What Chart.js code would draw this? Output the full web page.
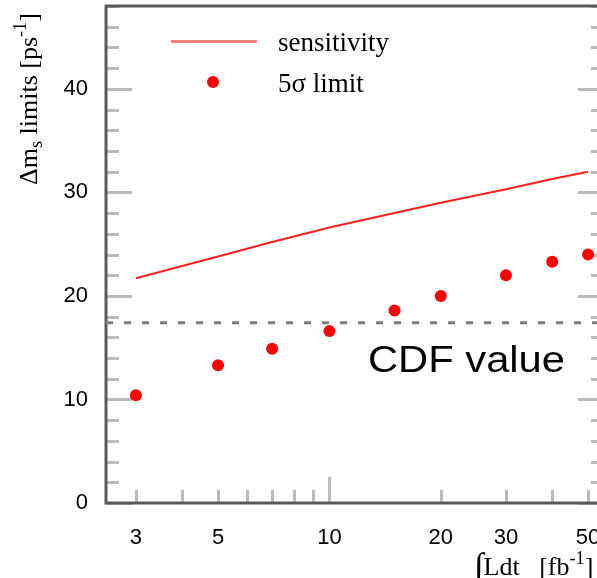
<!DOCTYPE html>
<html>
<head>
<meta charset="utf-8">
<script src="https://cdn.jsdelivr.net/npm/chart.js@4"></script>
<style>
  html, body { margin: 0; padding: 0; background: #fff; overflow: hidden; }
  #limits { display: block; }
</style>
</head>
<body>
<canvas id="limits" width="604" height="578"></canvas>
<script>
// integrated luminosity [fb^-1]
const lumi = [3, 5, 7, 10, 15, 20, 30, 40, 50]
// 5 sigma limit on delta m_s
const limit5s = [10.4, 13.3, 14.9, 16.6, 18.6, 20.0, 22.0, 23.3, 24.0]
// sensitivity curve
const sensitivity = [21.7, 23.8, 25.2, 26.6, 28.0, 29.0, 30.3, 31.3, 32.0]
const cdfValue = 17.4

const xTicks = [3, 4, 5, 6, 7, 8, 9, 10, 20, 30, 40, 50]
const xLabels = [3, 5, 10, 20, 30, 50]
const yLabels = [0, 10, 20, 30, 40]
const yMinorStep = 2
const xRange = [2.49, 55.2]
const yRange = [0, 48]

const serif = '"Liberation Serif", "DejaVu Serif", serif'
const sans = '"Liberation Sans", Arial, sans-serif'

// draw a run of text pieces (normal / sub / sup) starting at x along baseline
function drawPieces(ctx, pieces, size) {
  let x = 0
  pieces.forEach(p => {
    const s = size * (p.k || 1)
    ctx.font = s + 'px ' + serif
    ctx.fillText(p.t, x, p.dy || 0)
    x += ctx.measureText(p.t).width
  })
}

function noPad(s) {
  s.paddingTop = 0; s.paddingBottom = 0
  s.paddingLeft = 0; s.paddingRight = 0
}

const frame = {
  id: 'frame',
  beforeDatasetsDraw(chart) {
    const { ctx, chartArea: a, scales: { x, y } } = chart
    ctx.save()
    ctx.strokeStyle = '#bababa'
    ctx.lineWidth = 3
    ctx.beginPath()
    for (let v = yRange[0]; v <= yRange[1]; v += yMinorStep) {
      const py = Math.round(y.getPixelForValue(v)) + 0.5
      const len = yLabels.includes(v) ? 26 : 13
      ctx.moveTo(a.left, py); ctx.lineTo(a.left + len, py)
      ctx.moveTo(a.right, py); ctx.lineTo(a.right - len, py)
    }
    xTicks.forEach(v => {
      const px = Math.round(x.getPixelForValue(v)) + 0.5
      const len = v === 10 ? 26 : 13
      ctx.moveTo(px, a.bottom); ctx.lineTo(px, a.bottom - len)
    })
    ctx.stroke()
    ctx.strokeStyle = '#5a5a5a'
    ctx.lineWidth = 3
    ctx.strokeRect(a.left, a.top, a.right - a.left, a.bottom - a.top)
    ctx.restore()
  },
  afterDraw(chart) {
    const { ctx } = chart
    const ds = chart.data.datasets
    ctx.save()
    ctx.fillStyle = '#000'
    ctx.textBaseline = 'alphabetic'

    // legend
    ctx.strokeStyle = 'rgba(255,40,40,0.6)'
    ctx.lineWidth = 3
    ctx.beginPath(); ctx.moveTo(171, 41.5); ctx.lineTo(257, 41.5); ctx.stroke()
    ctx.fillStyle = ds[1].backgroundColor
    ctx.beginPath(); ctx.arc(213, 82, 6, 0, Math.PI * 2); ctx.fill()
    ctx.fillStyle = '#000'
    ctx.font = '27px ' + serif
    ctx.fillText(ds[0].label, 278, 51)
    ctx.fillText(ds[1].label, 278, 92)

    // CDF label
    ctx.font = '36px ' + sans
    const w = ctx.measureText('CDF value').width
    ctx.save()
    ctx.translate(368, 372)
    ctx.scale(197 / w, 1)
    ctx.fillText('CDF value', 0, 0)
    ctx.restore()

    // y title
    ctx.save()
    ctx.translate(37, 185)
    ctx.rotate(-Math.PI / 2)
    drawPieces(ctx, [
      { t: '\u0394m' }, { t: 's', k: 0.7, dy: 5 },
      { t: ' limits [ps' }, { t: '-1', k: 0.7, dy: -11 }, { t: ']' }
    ], 26)
    ctx.restore()

    // x title
    ctx.save()
    ctx.translate(474, 575)
    drawPieces(ctx, [
      { t: '\u222B', k: 1.35, dy: 2 }, { t: 'Ldt   [fb' }, { t: '-1', k: 0.7, dy: -11 }, { t: ']' }
    ], 26)
    ctx.restore()
    ctx.restore()
  }
}

new Chart(document.getElementById('limits'), {
  type: 'line',
  data: {
    datasets: [{
      label: 'sensitivity',
      data: lumi.map((v, i) => ({ x: v, y: sensitivity[i] })),
      borderColor: '#ff2020',
      borderWidth: 2,
      pointRadius: 0,
      order: 2
    }, {
      label: '5\u03C3 limit',
      data: lumi.map((v, i) => ({ x: v, y: limit5s[i] })),
      showLine: false,
      backgroundColor: '#ff0000',
      borderWidth: 0,
      pointRadius: 6,
      order: 1
    }, {
      label: 'CDF value',
      data: xRange.map(v => ({ x: v, y: cdfValue })),
      borderColor: '#7d7d7d',
      borderWidth: 3,
      borderDash: [7, 11],
      pointRadius: 0,
      order: 3
    }]
  },
  options: {
    responsive: false,
    animation: false,
    layout: { autoPadding: false, padding: { top: 6, left: 0, right: 0, bottom: 0 } },
    plugins: { legend: { display: false }, tooltip: { enabled: false } },
    scales: {
      x: {
        type: 'logarithmic',
        min: xRange[0],
        max: xRange[1],
        grid: { display: false },
        border: { display: false },
        afterBuildTicks: s => { s.ticks = xLabels.map(v => ({ value: v })) },
        afterFit: s => { s.height = 75; noPad(s) },
        ticks: {
          autoSkip: false, maxRotation: 0, padding: 14,
          color: '#000', font: { family: sans, size: 22 },
          callback: v => String(v)
        }
      },
      y: {
        min: yRange[0],
        max: yRange[1],
        grid: { display: false },
        border: { display: false },
        afterBuildTicks: s => { s.ticks = yLabels.map(v => ({ value: v })) },
        afterFit: s => { s.width = 106; noPad(s) },
        ticks: {
          padding: 10,
          color: '#000', font: { family: sans, size: 22 }
        }
      }
    }
  },
  plugins: [frame]
})
</script>
</body>
</html>
